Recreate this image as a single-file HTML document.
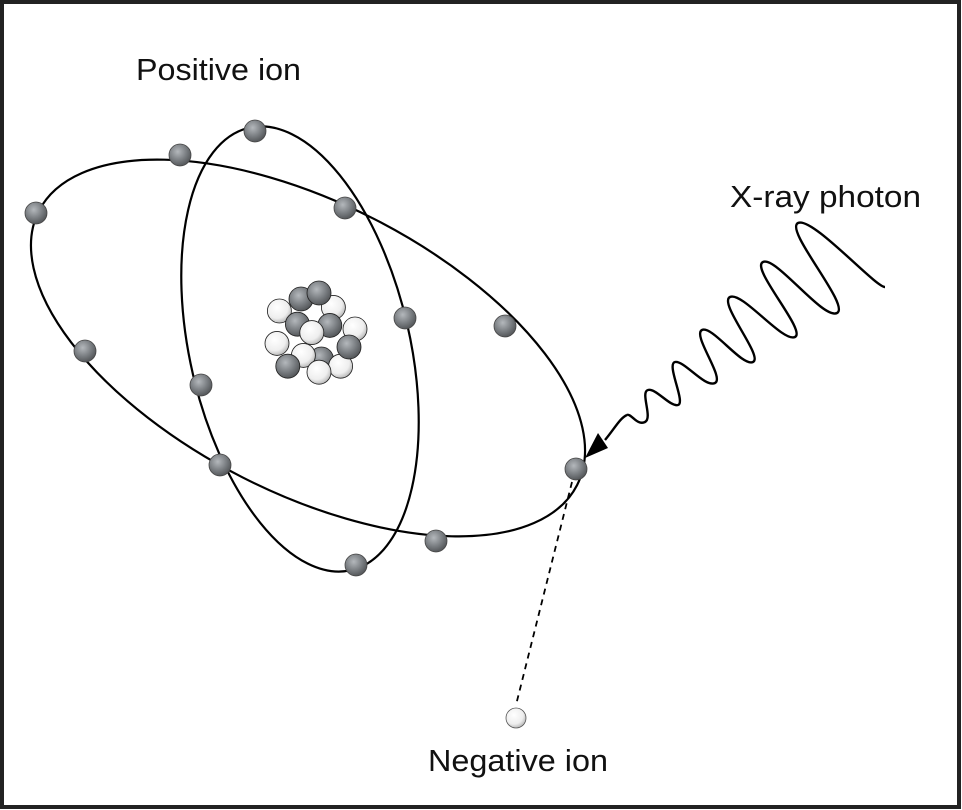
<!DOCTYPE html>
<html><head><meta charset="utf-8"><style>
html,body{margin:0;padding:0;background:#fff;}
svg{display:block;}
text{font-family:"Liberation Sans",Arial,sans-serif;font-size:31px;fill:#111;}
</style></head><body>
<svg width="962" height="810" viewBox="0 0 962 810" xmlns="http://www.w3.org/2000/svg">
<defs>
<radialGradient id="g" cx="0.4" cy="0.35" r="0.65">
<stop offset="0" stop-color="#b4b8bc"/><stop offset="0.6" stop-color="#7a7e82"/><stop offset="1" stop-color="#55585b"/>
</radialGradient>
<radialGradient id="w" cx="0.4" cy="0.35" r="0.65">
<stop offset="0" stop-color="#ffffff"/><stop offset="0.7" stop-color="#eeeeee"/><stop offset="1" stop-color="#bdbdbd"/>
</radialGradient>
</defs>
<rect x="2" y="2" width="957" height="805" fill="#fff" stroke="#222" stroke-width="4"/>
<text x="136" y="80" textLength="165" lengthAdjust="spacingAndGlyphs">Positive ion</text>
<text x="730" y="207" textLength="191" lengthAdjust="spacingAndGlyphs">X-ray photon</text>
<text x="428" y="771" textLength="180" lengthAdjust="spacingAndGlyphs">Negative ion</text>

<ellipse cx="308" cy="348" rx="302" ry="145" transform="rotate(27 308 348)" fill="none" stroke="#000" stroke-width="2.2"/>
<ellipse cx="300" cy="349" rx="110" ry="227" transform="rotate(-13 300 349)" fill="none" stroke="#000" stroke-width="2.2"/>

<line x1="572" y1="482" x2="516" y2="705" stroke="#000" stroke-width="1.8" stroke-dasharray="6,5"/>

<path d="M627,415 C631,413 637,426 645,422 S640,392 648,390 S670,407 678,405 S666,364 675,362 S705,388 715,383 S692,335 702,330 S742,367 753,362 S718,303 730,297 S783,343 795,337 S750,268 763,262 S823,320 837,313 S784,230 798,223 S875,287 885,287" fill="none" stroke="#000" stroke-width="2.4"/>
<path d="M627,415 C620,418 615,428 605,440" fill="none" stroke="#000" stroke-width="2.4"/>
<polygon points="585,458 598,433 608,448" fill="#000"/>

<g fill="url(#g)" stroke="#444" stroke-width="0.8">
<circle cx="255" cy="131" r="11"/><circle cx="180" cy="155" r="11"/><circle cx="36" cy="213" r="11"/>
<circle cx="345" cy="208" r="11"/><circle cx="405" cy="318" r="11"/><circle cx="505" cy="326" r="11"/>
<circle cx="85" cy="351" r="11"/><circle cx="201" cy="385" r="11"/><circle cx="220" cy="465" r="11"/>
<circle cx="576" cy="469" r="11"/><circle cx="436" cy="541" r="11"/><circle cx="356" cy="565" r="11"/>
</g>
<circle cx="516" cy="718" r="10" fill="url(#w)" stroke="#555" stroke-width="0.8"/>

<g stroke="#222" stroke-width="0.7" transform="translate(313 335) scale(1.2) translate(-313 -335)">
<circle cx="303" cy="305" r="10" fill="url(#g)"/>
<circle cx="285" cy="315" r="10" fill="url(#w)"/>
<circle cx="330" cy="312" r="10" fill="url(#w)"/>
<circle cx="318" cy="300" r="10" fill="url(#g)"/>
<circle cx="348" cy="330" r="10" fill="url(#w)"/>
<circle cx="283" cy="342" r="10" fill="url(#w)"/>
<circle cx="300" cy="326" r="10" fill="url(#g)"/>
<circle cx="327" cy="327" r="10" fill="url(#g)"/>
<circle cx="320" cy="355" r="10" fill="url(#g)"/>
<circle cx="305" cy="352" r="10" fill="url(#w)"/>
<circle cx="336" cy="361" r="10" fill="url(#w)"/>
<circle cx="312" cy="333" r="10" fill="url(#w)"/>
<circle cx="343" cy="345" r="10" fill="url(#g)"/>
<circle cx="292" cy="361" r="10" fill="url(#g)"/>
<circle cx="318" cy="366" r="10" fill="url(#w)"/>
</g>
</svg>
</body></html>
